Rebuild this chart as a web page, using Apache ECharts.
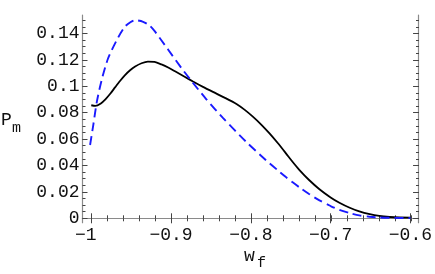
<!DOCTYPE html>
<html>
<head>
<meta charset="utf-8">
<script src="https://cdn.jsdelivr.net/npm/echarts@6/dist/echarts.min.js"></script>
<style>html,body{margin:0;padding:0;background:#fff;}#c{width:435px;height:274px;}</style>
</head>
<body>
<div id="c"></div>
<script>
// Data
var solidX = [-1.0, -0.995, -0.988, -0.982, -0.976, -0.970, -0.964, -0.958, -0.951, -0.945, -0.937, -0.929, -0.921, -0.912, -0.903, -0.895, -0.883, -0.8725, -0.86, -0.8475, -0.833, -0.818, -0.808, -0.7975, -0.787, -0.7766, -0.766, -0.756, -0.748, -0.739, -0.727, -0.714, -0.70, -0.689, -0.676, -0.664, -0.651, -0.639, -0.626, -0.614, -0.6];
var solidY = [0.0856, 0.0851, 0.0870, 0.0903, 0.0945, 0.0993, 0.1040, 0.1083, 0.1123, 0.1150, 0.1174, 0.1186, 0.1184, 0.1165, 0.1140, 0.1113, 0.1072, 0.1036, 0.0995, 0.0957, 0.0914, 0.0866, 0.0823, 0.0770, 0.0710, 0.0643, 0.0568, 0.0492, 0.0430, 0.0365, 0.0290, 0.0220, 0.0158, 0.0118, 0.0080, 0.0052, 0.0031, 0.0018, 0.0010, 0.0006, 0.0005];
var dashedX = [-1.0015, -0.9975, -0.993, -0.987, -0.979, -0.968, -0.958, -0.951, -0.945, -0.935, -0.927, -0.920, -0.904, -0.887, -0.8725, -0.856, -0.835, -0.806, -0.781, -0.764, -0.756, -0.748, -0.739, -0.727, -0.714, -0.70, -0.689, -0.676, -0.664, -0.651, -0.639, -0.62, -0.6];
var dashedY = [0.0555, 0.0706, 0.0883, 0.1047, 0.1210, 0.1350, 0.1450, 0.1485, 0.1500, 0.1488, 0.1460, 0.1413, 0.1280, 0.1138, 0.1025, 0.0903, 0.0760, 0.0580, 0.0440, 0.0352, 0.0312, 0.0274, 0.0234, 0.0184, 0.0136, 0.0093, 0.0064, 0.0039, 0.0022, 0.0012, 0.0006, 0.0003, 0.0002];
var xMajor = [-1, -0.9, -0.8, -0.7, -0.6];
var xMinor = [-1, -0.98, -0.96, -0.94, -0.92, -0.9, -0.88, -0.86, -0.84, -0.82, -0.8, -0.78, -0.76, -0.74, -0.72, -0.7, -0.68, -0.66, -0.64, -0.62, -0.6];
var yMajor = [0, 0.02, 0.04, 0.06, 0.08, 0.1, 0.12, 0.14];
var yMinor = [0, 0.005, 0.01, 0.015, 0.02, 0.025, 0.03, 0.035, 0.04, 0.045, 0.05, 0.055, 0.06, 0.065, 0.07, 0.075, 0.08, 0.085, 0.09, 0.095, 0.1, 0.105, 0.11, 0.115, 0.12, 0.125, 0.13, 0.135, 0.14, 0.145, 0.15];
var xName = ['w', 'f'];
var yName = ['P', 'm'];

function pairs(xs, ys) { return xs.map(function (x, i) { return [x, ys[i]]; }); }

var XMIN = -1.011, XMAX = -0.5904, YMIN = -0.00333, YMAX = 0.15394;
var FONT = '"Liberation Mono", "DejaVu Sans Mono", monospace';
var frameColor = '#8a8a8a';
var tickColor = '#444';

function xAxisDef(grid, pos, ticks, len, labels) {
  return {
    type: 'value', gridIndex: grid, position: pos, min: XMIN, max: XMAX,
    axisLine: { show: grid === 0, lineStyle: { color: frameColor, width: 1.2 } },
    axisTick: { show: true, inside: true, length: len, customValues: ticks, lineStyle: { color: tickColor, width: 1 } },
    axisLabel: labels ? {
      show: true, customValues: xMajor, margin: 4, color: '#111',
      fontFamily: FONT, fontSize: 18,
      formatter: function (v) { var s = String(v).replace('-', '\u2212'); return v === -1 ? s + ' ' : s; }
    } : { show: false },
    splitLine: { show: false }
  };
}
function yAxisDef(grid, pos, ticks, len, labels) {
  return {
    type: 'value', gridIndex: grid, position: pos, min: YMIN, max: YMAX,
    axisLine: { show: grid === 0, lineStyle: { color: frameColor, width: 1.2 } },
    axisTick: { show: true, inside: true, length: len, customValues: ticks, lineStyle: { color: tickColor, width: 1 } },
    axisLabel: labels ? {
      show: true, customValues: yMajor, margin: 3, color: '#111',
      fontFamily: FONT, fontSize: 18,
      formatter: function (v) { return String(+v.toFixed(3)); }
    } : { show: false },
    splitLine: { show: false }
  };
}

var gridRect = { left: 82.5, right: 16, top: 15, bottom: 51.3, containLabel: false };
var chart = echarts.init(document.getElementById('c'), null, { renderer: 'canvas' });
chart.setOption({
  animation: false,
  backgroundColor: '#fff',
  grid: [Object.assign({}, gridRect), Object.assign({}, gridRect)],
  xAxis: [
    xAxisDef(0, 'bottom', xMajor, 5, true),
    xAxisDef(0, 'top', xMajor, 5, false),
    xAxisDef(1, 'bottom', xMinor, 3, false),
    xAxisDef(1, 'top', xMinor, 3, false)
  ],
  yAxis: [
    yAxisDef(0, 'left', yMajor, 5, true),
    yAxisDef(0, 'right', yMajor, 5, false),
    yAxisDef(1, 'left', yMinor, 3, false),
    yAxisDef(1, 'right', yMinor, 3, false)
  ],
  series: [
    {
      type: 'line', xAxisIndex: 0, yAxisIndex: 0, data: pairs(solidX, solidY),
      smooth: 0.25, showSymbol: false, lineStyle: { color: '#000', width: 1.8 }, z: 3
    },
    {
      type: 'line', xAxisIndex: 0, yAxisIndex: 0, data: pairs(dashedX, dashedY),
      smooth: 0.25, showSymbol: false, lineStyle: { color: '#1a1aff', width: 1.9, type: [9, 5] }, z: 4
    }
  ],
  graphic: [
    { type: 'text', left: 1, top: 111, style: { text: yName[0], font: '18px ' + FONT, fill: '#111' } },
    { type: 'text', left: 12, top: 121, style: { text: yName[1], font: '15px ' + FONT, fill: '#111' } },
    { type: 'text', left: 244, top: 247, style: { text: xName[0], font: '18px ' + FONT, fill: '#111' } },
    { type: 'text', left: 257, top: 256, style: { text: xName[1], font: '15px ' + FONT, fill: '#111' } }
  ]
});
</script>
</body>
</html>
